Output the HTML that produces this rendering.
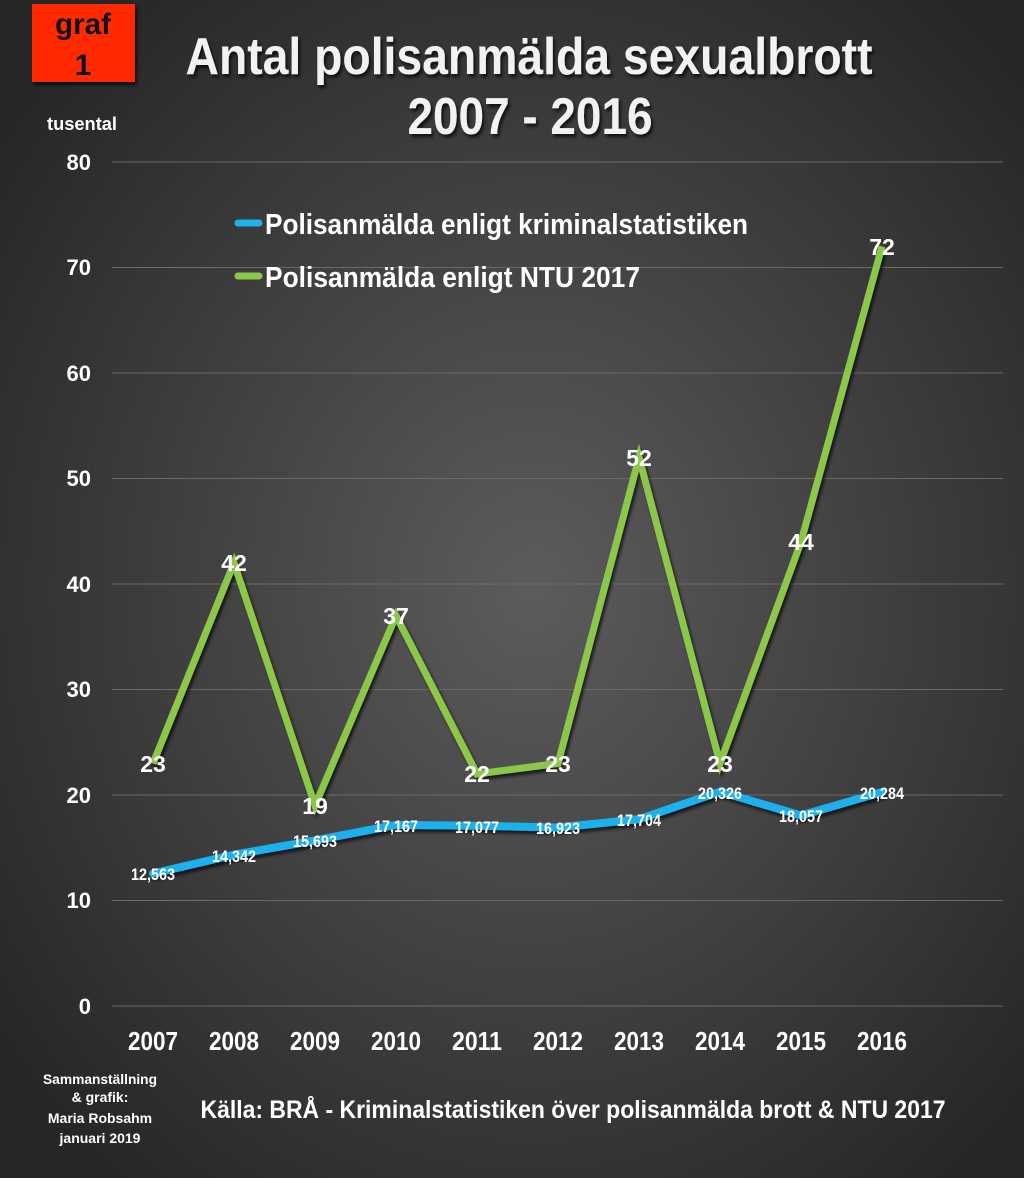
<!DOCTYPE html>
<html><head><meta charset="utf-8"><style>
html,body{margin:0;padding:0;width:1024px;height:1178px;overflow:hidden;background:#3a3a3a}
svg{display:block}
text{font-family:"Liberation Sans Narrow","Liberation Sans",sans-serif;font-weight:bold}
</style></head><body>
<svg width="1024" height="1178" viewBox="0 0 1024 1178" xmlns="http://www.w3.org/2000/svg">
<defs>
<radialGradient id="bg" cx="52%" cy="50%" r="65%">
<stop offset="0" stop-color="#5c5c5c"/><stop offset="1" stop-color="#262626"/>
</radialGradient>
<filter id="sh"><feDropShadow dx="2" dy="3" stdDeviation="1.5" flood-color="#000" flood-opacity="0.7"/></filter>
</defs>
<rect width="1024" height="1178" fill="url(#bg)"/>
<rect x="32" y="4" width="103" height="78" fill="#ff2a00" filter="url(#sh)"/>
<text x="83" y="34" font-size="30" text-anchor="middle" fill="#111" textLength="56" lengthAdjust="spacingAndGlyphs">graf</text>
<text x="83" y="75" font-size="30" text-anchor="middle" fill="#111">1</text>
<g font-size="52" fill="#f2f2f2" text-anchor="middle" filter="url(#sh)" lengthAdjust="spacingAndGlyphs">
<text x="529" y="74" textLength="687" lengthAdjust="spacingAndGlyphs">Antal polisanmälda sexualbrott</text>
<text x="530" y="134" textLength="245" lengthAdjust="spacingAndGlyphs">2007 - 2016</text>
</g>
<text x="82" y="130" font-size="18" fill="#fff" text-anchor="middle" textLength="70" lengthAdjust="spacingAndGlyphs">tusental</text>
<g stroke="#6a6a6a" stroke-width="1">
<line x1="112" x2="1003" y1="162" y2="162"/><line x1="112" x2="1003" y1="267.5" y2="267.5"/>
<line x1="112" x2="1003" y1="373" y2="373"/><line x1="112" x2="1003" y1="478.5" y2="478.5"/>
<line x1="112" x2="1003" y1="584" y2="584"/><line x1="112" x2="1003" y1="689.5" y2="689.5"/>
<line x1="112" x2="1003" y1="795" y2="795"/><line x1="112" x2="1003" y1="900.5" y2="900.5"/>
<line x1="112" x2="1003" y1="1006" y2="1006"/>
</g>
<g font-size="22" fill="#fff" text-anchor="end">
<text x="91" y="170">80</text><text x="91" y="275">70</text><text x="91" y="381">60</text>
<text x="91" y="486">50</text><text x="91" y="592">40</text><text x="91" y="697">30</text>
<text x="91" y="803">20</text><text x="91" y="908">10</text><text x="91" y="1014">0</text>
</g>
<g font-size="26" fill="#fff" text-anchor="middle">
<text x="153" y="1050" textLength="50" lengthAdjust="spacingAndGlyphs">2007</text><text x="234" y="1050" textLength="50" lengthAdjust="spacingAndGlyphs">2008</text><text x="315" y="1050" textLength="50" lengthAdjust="spacingAndGlyphs">2009</text>
<text x="396" y="1050" textLength="50" lengthAdjust="spacingAndGlyphs">2010</text><text x="477" y="1050" textLength="50" lengthAdjust="spacingAndGlyphs">2011</text><text x="558" y="1050" textLength="50" lengthAdjust="spacingAndGlyphs">2012</text>
<text x="639" y="1050" textLength="50" lengthAdjust="spacingAndGlyphs">2013</text><text x="720" y="1050" textLength="50" lengthAdjust="spacingAndGlyphs">2014</text><text x="801" y="1050" textLength="50" lengthAdjust="spacingAndGlyphs">2015</text>
<text x="882" y="1050" textLength="50" lengthAdjust="spacingAndGlyphs">2016</text>
</g>
<line x1="238" y1="223" x2="259" y2="223" stroke="#1fb0ee" stroke-width="7" stroke-linecap="round"/>
<line x1="238" y1="276" x2="259" y2="276" stroke="#8bc84a" stroke-width="7" stroke-linecap="round"/>
<g font-size="29" fill="#fff">
<text x="265" y="234" textLength="483" lengthAdjust="spacingAndGlyphs">Polisanmälda enligt kriminalstatistiken</text>
<text x="265" y="287" textLength="375" lengthAdjust="spacingAndGlyphs">Polisanmälda enligt NTU 2017</text>
</g>
<polyline fill="none" stroke="#1fb0ee" stroke-width="8" stroke-linejoin="round" stroke-linecap="round" filter="url(#sh)"
points="153,873.5 234,854.7 315,840.4 396,824.9 477,825.8 558,827.5 639,819.2 720,791.6 801,815.5 882,792"/>
<polyline fill="none" stroke="#8bc84a" stroke-width="7" stroke-linejoin="miter" filter="url(#sh)"
points="153,763.4 234,562.9 315,805.5 396,615.7 477,773.9 558,763.4 639,457.4 720,763.4 801,541.8 882,246.4"/>
<g font-size="17" fill="#fff" text-anchor="middle">
<text x="153" y="880" textLength="44" lengthAdjust="spacingAndGlyphs">12,563</text><text x="234" y="862" textLength="44" lengthAdjust="spacingAndGlyphs">14,342</text><text x="315" y="847" textLength="44" lengthAdjust="spacingAndGlyphs">15,693</text>
<text x="396" y="832" textLength="44" lengthAdjust="spacingAndGlyphs">17,167</text><text x="477" y="833" textLength="44" lengthAdjust="spacingAndGlyphs">17,077</text><text x="558" y="834" textLength="44" lengthAdjust="spacingAndGlyphs">16,923</text>
<text x="639" y="826" textLength="44" lengthAdjust="spacingAndGlyphs">17,704</text><text x="720" y="799" textLength="44" lengthAdjust="spacingAndGlyphs">20,326</text><text x="801" y="822" textLength="44" lengthAdjust="spacingAndGlyphs">18,057</text>
<text x="882" y="799" textLength="44" lengthAdjust="spacingAndGlyphs">20,284</text>
</g>
<g font-size="23" fill="#fff" text-anchor="middle">
<text x="153" y="772">23</text><text x="234" y="571">42</text><text x="315" y="814">19</text>
<text x="396" y="624">37</text><text x="477" y="782">22</text><text x="558" y="772">23</text>
<text x="639" y="466">52</text><text x="720" y="772">23</text><text x="801" y="550">44</text>
<text x="882" y="255">72</text>
</g>
<g font-size="14" fill="#fff" text-anchor="middle">
<text x="100" y="1084" textLength="114" lengthAdjust="spacingAndGlyphs">Sammanställning</text><text x="100" y="1102">&amp; grafik:</text>
<text x="100" y="1123">Maria Robsahm</text><text x="100" y="1143">januari 2019</text>
</g>
<text x="573" y="1118" font-size="25" fill="#fff" text-anchor="middle" textLength="745" lengthAdjust="spacingAndGlyphs">Källa: BRÅ - Kriminalstatistiken över polisanmälda brott &amp; NTU 2017</text>
</svg>
</body></html>
